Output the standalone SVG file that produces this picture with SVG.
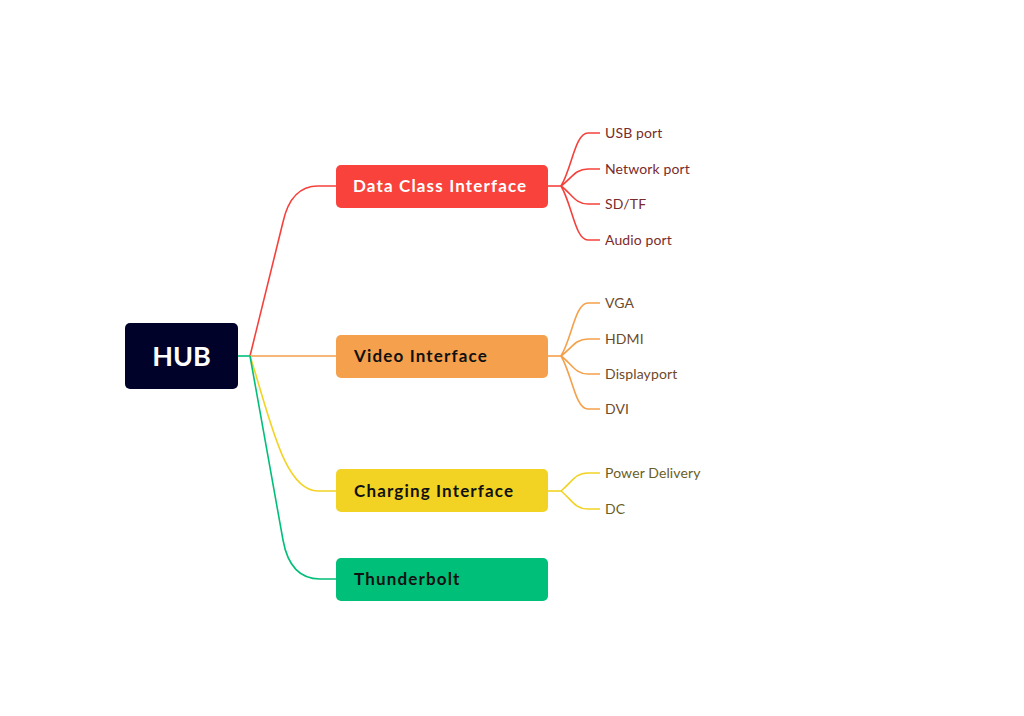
<svg xmlns="http://www.w3.org/2000/svg" width="1024" height="716" viewBox="0 0 1024 716">
<style>
.lbl{font-family:Lato,"Open Sans",sans-serif;font-weight:bold;font-size:17px;letter-spacing:1.15px}
.leaf{font-family:Lato,"Open Sans",sans-serif;font-size:14px;letter-spacing:0.12px}
.c{fill:none;stroke-width:1.6}
.r{stroke:#F5413C}.o{stroke:#F5A04A}.y{stroke:#F2D323}.g{stroke:#00BF79}
</style>
<rect width="1024" height="716" fill="#fff"/>
<g id="connectors">
<path class="c g" d="M238,356 L250,356"/>
<path class="c r" d="M250,356 L283,222 Q291,186 318,186 L336,186"/>
<path class="c o" d="M250,356 L336,356"/>
<path class="c y" d="M250,356 C270,418 284,491 318,491 L336,491"/>
<path class="c g" d="M250,356 L283,540 Q290,579 320,579 L336,579"/>
<path class="c r" d="M548,186 L561,186"/>
<path class="c r" d="M561,186 C572,168 575,133 588,133 L600,133"/>
<path class="c r" d="M561,186 C572,178 575,169 588,169 L600,169"/>
<path class="c r" d="M561,186 C572,194 575,204 588,204 L600,204"/>
<path class="c r" d="M561,186 C572,204 575,240 588,240 L600,240"/>
<path class="c o" d="M548,356 L561,356"/>
<path class="c o" d="M561,356 C572,338 575,303 588,303 L600,303"/>
<path class="c o" d="M561,356 C572,348 575,339 588,339 L600,339"/>
<path class="c o" d="M561,356 C572,364 575,374 588,374 L600,374"/>
<path class="c o" d="M561,356 C572,374 575,409 588,409 L600,409"/>
<path class="c y" d="M548,491 L561,491"/>
<path class="c y" d="M561,491 C572,482 575,473 588,473 L600,473"/>
<path class="c y" d="M561,491 C572,500 575,509 588,509 L600,509"/>
</g>
<g id="hub">
<rect x="125" y="323" width="113" height="66" rx="5" fill="#000229"/>
<text x="181.5" y="366" text-anchor="middle" font-family="Lato,'Open Sans',sans-serif" font-weight="bold" font-size="27" fill="#fff">HUB</text>
</g>
<g id="data">
<rect x="336" y="165" width="212" height="43" rx="5" fill="#F9423C"/>
<text class="lbl" x="353" y="192" fill="#fff">Data Class Interface</text>
</g>
<g id="video">
<rect x="336" y="335" width="212" height="43" rx="5" fill="#F5A04C"/>
<text class="lbl" x="354" y="362" fill="#111">Video Interface</text>
</g>
<g id="charging">
<rect x="336" y="469" width="212" height="43" rx="5" fill="#F2D323"/>
<text class="lbl" x="354" y="497" fill="#111">Charging Interface</text>
</g>
<g id="thunderbolt">
<rect x="336" y="558" width="212" height="43" rx="5" fill="#00BF79"/>
<text class="lbl" x="354" y="585" fill="#111">Thunderbolt</text>
</g>
<g id="usb"><text class="leaf" x="605" y="138" fill="#7A2B2B">USB port</text></g>
<g id="network"><text class="leaf" x="605" y="174" fill="#7A2B2B">Network port</text></g>
<g id="sdtf"><text class="leaf" x="605" y="209" fill="#7A2B2B">SD/TF</text></g>
<g id="audio"><text class="leaf" x="605" y="245" fill="#7A2B2B">Audio port</text></g>
<g id="vga"><text class="leaf" x="605" y="308" fill="#6E4A2A">VGA</text></g>
<g id="hdmi"><text class="leaf" x="605" y="344" fill="#6E4A2A">HDMI</text></g>
<g id="displayport"><text class="leaf" x="605" y="379" fill="#6E4A2A">Displayport</text></g>
<g id="dvi"><text class="leaf" x="605" y="414" fill="#6E4A2A">DVI</text></g>
<g id="pd"><text class="leaf" x="605" y="478" fill="#6B5E24">Power Delivery</text></g>
<g id="dc"><text class="leaf" x="605" y="514" fill="#6B5E24">DC</text></g>
</svg>
